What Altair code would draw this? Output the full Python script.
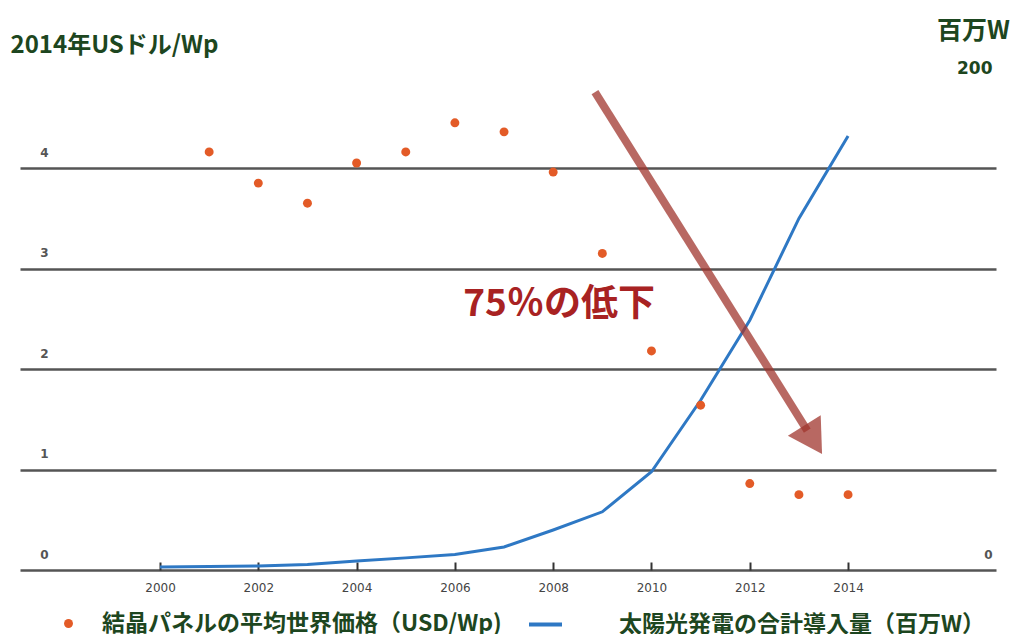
import altair as alt
import pandas as pd

# ---------------- data ----------------
years = list(range(2000, 2015))
capacity = [1.2, 1.4, 1.7, 2.3, 3.7, 5.0, 6.4, 9.5, 16.5, 24, 40.5, 70, 103, 145, 179]
price_years = list(range(2001, 2015))
price = [4.16, 3.85, 3.65, 4.05, 4.16, 4.45, 4.36, 3.96, 3.15, 2.18, 1.64, 0.86, 0.75, 0.75]

x_ticks = [2000, 2002, 2004, 2006, 2008, 2010, 2012, 2014]
left_ticks = [0, 1, 2, 3, 4]
right_ticks = [0, 200]

series_price = "結晶パネルの平均世界価格（USD/Wp)"
series_cap = "太陽光発電の合計導入量（百万W）"
left_title = "2014年USドル/Wp"
right_title = "百万W"
drop_label = "75％の低下"

# annotation arrow (data coordinates: year, USD/Wp)
arrow_x = [2008.85]
arrow_y = [4.756]
arrow_x2 = [2013.17]
arrow_y2 = [1.388]
head_x = [2013.29]
head_y = [1.296]
label_x = [2008.12]
label_y = [2.637]

GREEN = "#1d4620"
CJK = "Noto Sans CJK JP"

x_dom = [1997.151, 2017.01]
yl_dom = [0, 5.075]
yr_dom = [0, 210.3]

df_price = pd.DataFrame({"year": price_years, "price": price, "s": series_price})
df_cap = pd.DataFrame({"year": years, "cap": capacity, "s2": series_cap})
df_arrow = pd.DataFrame({"x": arrow_x, "y": arrow_y, "x2": arrow_x2, "y2": arrow_y2})
df_head = pd.DataFrame({"x": head_x, "y": head_y})
df_label = pd.DataFrame({"x": label_x, "y": label_y, "t": [drop_label]})

x_axis = alt.Axis(
    values=x_ticks, format="d", orient="bottom", offset=-8, tickSize=8, tickWidth=2,
    tickColor="#333", domain=False, grid=False, labelPadding=12, labelFont="DejaVu Sans",
    labelFontSize=12, labelColor="#444", labelFlush=False, title=None,
)
left_axis = alt.Axis(
    values=left_ticks, grid=True, gridColor="#555", gridWidth=2.5, domain=False, ticks=False,
    labelAlign="right", labelPadding=-28, labelOffset=-16, labelBaseline="middle",
    labelFont="DejaVu Sans", labelFontSize=12, labelFontWeight="bold", labelColor="#555",
    title=left_title, titleAngle=0, titleX=-10, titleY=-15, titleAlign="left",
    titleBaseline="middle", titleFont=CJK, titleFontSize=24, titleFontWeight="bold",
    titleColor=GREEN,
)
right_axis = alt.Axis(
    values=right_ticks, orient="right", grid=False, domain=False, ticks=False,
    labelAlign="right", labelPadding=-4, labelOffset=-16, labelBaseline="middle",
    labelFont="DejaVu Sans", labelFontWeight="bold",
    labelFontSize={"expr": "datum.value == 0 ? 12 : 17"},
    labelColor={"expr": "datum.value == 0 ? '#555' : '" + GREEN + "'"},
    title=right_title, titleAngle=0, titleX=-23, titleY=-30, titleAlign="center",
    titleBaseline="middle", titleFont=CJK, titleFontSize=25, titleFontWeight="bold",
    titleColor=GREEN,
)

xs = alt.Scale(domain=x_dom, nice=False, zero=False)
yls = alt.Scale(domain=yl_dom, nice=False)

line = alt.Chart(df_cap).mark_line(strokeWidth=3).encode(
    x=alt.X("year:Q", scale=xs, axis=x_axis),
    y=alt.Y("cap:Q", scale=alt.Scale(domain=yr_dom, nice=False), axis=right_axis),
    stroke=alt.Stroke(
        "s2:N", scale=alt.Scale(domain=[series_cap], range=["#2e78c4"]),
        legend=alt.Legend(
            orient="none", legendX=507, legendY=546, title=None, padding=0,
            symbolType="stroke", symbolSize=1089, symbolStrokeWidth=4,
            labelOffset=55, labelFont=CJK, labelFontSize=23, labelFontWeight="bold",
            labelColor=GREEN, labelLimit=1000,
        ),
    ),
)

points = alt.Chart(df_price).mark_point(filled=True, size=80, opacity=1).encode(
    x=alt.X("year:Q", scale=xs, axis=x_axis),
    y=alt.Y("price:Q", scale=yls, axis=left_axis),
    color=alt.Color(
        "s:N", scale=alt.Scale(domain=[series_price], range=["#e35b27"]),
        legend=alt.Legend(
            orient="none", legendX=37, legendY=552, title=None, padding=0,
            symbolType="circle", symbolSize=80, symbolStrokeWidth=0, symbolOpacity=1,
            labelOffset=22, labelFont=CJK, labelFontSize=23, labelFontWeight="bold",
            labelColor=GREEN, labelLimit=1000,
        ),
    ),
)

arrow = alt.Chart(df_arrow).mark_rule(strokeWidth=8, color="#a0362e", opacity=0.75, strokeCap="butt").encode(
    x=alt.X("x:Q", scale=xs, axis=x_axis),
    y=alt.Y("y:Q", scale=yls, axis=left_axis),
    x2="x2:Q",
    y2="y2:Q",
)

head = alt.Chart(df_head).mark_point(
    shape="triangle-up", size=1500, angle=148, filled=True, color="#a0362e", opacity=0.75
).encode(
    x=alt.X("x:Q", scale=xs, axis=x_axis),
    y=alt.Y("y:Q", scale=yls, axis=left_axis),
)

label = alt.Chart(df_label).mark_text(
    font=CJK, fontSize=37, fontWeight="bold", color="#a82222", align="center", baseline="middle"
).encode(
    x=alt.X("x:Q", scale=xs, axis=x_axis),
    y=alt.Y("y:Q", scale=yls, axis=left_axis),
    text="t:N",
)

left_group = alt.layer(points, label, arrow, head)

chart = (
    alt.layer(line, left_group)
    .resolve_scale(y="independent")
    .properties(
        width=976, height=510,
        autosize=alt.AutoSizeParams(type="none"),
        padding={"left": 20, "top": 60, "right": 20, "bottom": 64},
        background="white",
    )
    .configure_view(stroke=None)
)

chart.save("out.html", embed_options={"renderer": "svg", "actions": False})
